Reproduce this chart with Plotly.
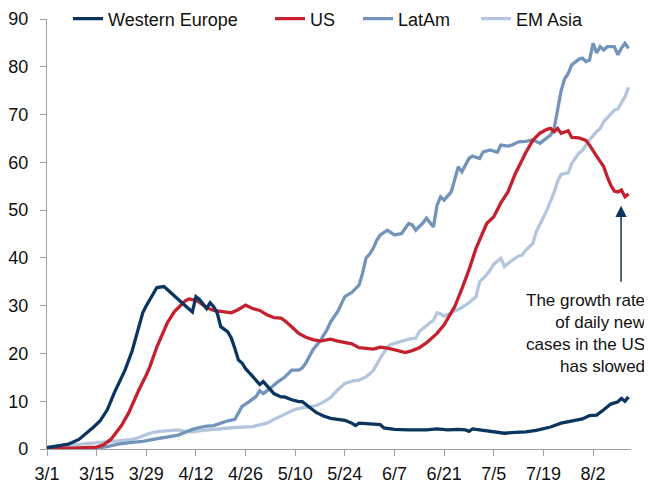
import datetime as dt
import plotly.graph_objects as go

BASE = dt.datetime(2020, 3, 1)

# Days since 1 Mar 2020 and values
we_day = [0, 3, 6, 9, 11, 13, 15, 17, 19, 21, 22, 24, 26, 27, 28, 29, 30, 31, 33, 34, 35, 37, 39, 41, 42, 43,
          45, 46, 47, 48, 49, 51, 52, 53, 54, 55, 56, 58, 60, 61, 62, 64, 66, 67, 69, 71, 72, 74, 76, 78, 80,
          82, 84, 86, 87, 88, 92, 94, 95, 98, 102, 107, 110, 113, 116, 118, 119, 120, 122, 124, 126, 129,
          132, 135, 138, 140, 142, 145, 148, 151, 153, 155, 157, 159, 161, 162, 163, 164]
we_val = [0.3, 0.6, 1.0, 2.0, 3.2, 4.5, 5.9, 8.2, 11.8, 14.8, 16.5, 20.5, 25.5, 28.5, 30.0, 31.2, 32.5, 33.8,
          34.0, 33.3, 32.6, 31.2, 30.0, 28.7, 31.9, 31.3, 29.4, 30.6, 29.8, 28.5, 25.6, 24.5, 23.2, 21.0,
          18.6, 18.0, 16.8, 15.2, 13.5, 14.1, 13.2, 11.6, 10.9, 10.9, 10.3, 9.9, 9.9, 8.7, 7.6, 6.9, 6.4,
          6.2, 6.0, 5.4, 4.9, 5.4, 5.3, 5.1, 4.4, 4.1, 4.0, 4.0, 4.2, 4.0, 4.1, 4.0, 3.7, 4.2, 4.0, 3.8,
          3.6, 3.3, 3.5, 3.6, 3.9, 4.2, 4.6, 5.4, 5.8, 6.3, 7.0, 7.1, 8.2, 9.4, 9.9, 10.6, 10.0, 10.9]

us_day = [0, 7, 14, 16, 18, 20, 21, 23, 24, 26, 28, 29, 31, 33, 34, 36, 37, 39, 40, 42, 43, 45, 47, 49, 51,
          52, 54, 56, 58, 60, 62, 64, 66, 67, 69, 71, 73, 75, 77, 79, 80, 82, 84, 86, 88, 90, 92, 94, 96,
          99, 101, 103, 105, 107, 108, 110, 112, 114, 115, 117, 119, 121, 123, 124, 126, 128, 130, 132,
          134, 135, 137, 139, 141, 142, 143, 144, 145, 147, 148, 150, 152, 153, 155, 157, 158, 159, 160,
          161, 162, 163, 164]
us_val = [0.2, 0.2, 0.4, 0.9, 2.0, 3.8, 4.9, 7.5, 9.2, 12.5, 15.5, 17.2, 21.4, 24.8, 26.5, 28.8, 29.6, 31.0,
          31.4, 31.1, 30.7, 29.6, 29.0, 28.8, 28.7, 28.5, 29.2, 30.1, 29.4, 29.0, 28.1, 27.5, 27.4, 26.9,
          25.6, 24.2, 23.4, 22.9, 22.6, 22.8, 23.0, 22.6, 22.3, 22.0, 21.2, 21.1, 20.9, 21.3, 21.1, 20.6,
          20.2, 20.6, 21.2, 22.2, 22.9, 24.2, 26.0, 28.4, 29.8, 33.5, 37.5, 42.0, 45.6, 47.2, 48.6, 51.5,
          53.8, 57.5, 60.5, 62.0, 64.6, 66.1, 66.9, 67.1, 66.4, 67.1, 66.1, 66.6, 65.2, 65.1, 64.6, 63.6,
          61.3, 59.1, 57.0, 55.2, 54.0, 53.8, 54.2, 52.8, 53.4]

la_day = [0, 10, 14, 17, 20, 24, 27, 30, 33, 35, 37, 39, 41, 43, 45, 47, 49, 51, 53, 54, 55, 57, 59, 60, 61,
          63, 65, 67, 69, 71, 72, 73, 75, 77, 79, 80, 82, 84, 86, 88, 89, 90, 91, 92, 93, 94, 96, 98, 100,
          102, 103, 104, 106, 107, 109, 110, 111, 112, 114, 116, 117, 119, 120, 122, 123, 125, 127, 128,
          130, 131, 133, 135, 137, 139, 140, 142, 143, 144, 145, 146, 147, 148, 150, 151, 152, 153, 154,
          155, 156, 157, 158, 160, 161, 162, 163, 164]
la_val = [0.0, 0.1, 0.2, 0.5, 1.0, 1.4, 1.6, 2.0, 2.4, 2.7, 2.9, 3.5, 4.1, 4.5, 4.8, 4.9, 5.4, 5.9, 6.2, 7.5,
          8.9, 9.9, 11.0, 12.2, 11.6, 12.7, 14.0, 15.0, 16.5, 16.5, 17.0, 18.0, 20.8, 22.6, 25.0, 26.6,
          28.8, 31.9, 32.8, 34.3, 36.8, 40.0, 40.8, 42.0, 43.7, 44.8, 45.8, 44.8, 45.1, 47.2, 46.9, 45.8,
          47.3, 48.3, 46.5, 51.0, 52.8, 52.1, 53.8, 59.1, 58.0, 60.8, 61.3, 60.8, 62.2, 62.6, 62.1, 63.6,
          63.4, 63.6, 64.3, 64.4, 64.7, 64.0, 64.6, 65.7, 67.0, 71.0, 75.0, 77.5, 78.6, 80.4, 81.6, 81.8,
          81.1, 81.4, 84.9, 82.9, 84.2, 83.5, 84.2, 84.2, 82.5, 83.9, 84.9, 83.9]

ea_day = [0, 5, 10, 14, 17, 20, 24, 26, 28, 30, 32, 35, 37, 39, 41, 44, 48, 53, 58, 60, 62, 64, 66, 68, 70,
          72, 74, 76, 78, 80, 82, 84, 86, 88, 90, 92, 94, 96, 97, 100, 102, 104, 105, 107, 108, 109, 110,
          111, 112, 115, 117, 119, 121, 122, 124, 125, 126, 128, 129, 131, 133, 134, 135, 137, 138, 139,
          141, 143, 144, 145, 147, 148, 150, 151, 153, 155, 156, 157, 159, 160, 161, 162, 163, 164]
ea_val = [0.4, 0.7, 1.0, 1.2, 1.4, 1.7, 2.0, 2.4, 3.0, 3.5, 3.7, 3.8, 4.0, 3.7, 3.6, 3.9, 4.2, 4.5, 4.7, 5.0,
          5.4, 6.2, 6.9, 7.6, 8.3, 8.6, 8.8, 9.1, 9.8, 10.8, 12.4, 13.7, 14.2, 14.4, 15.1, 16.4, 19.0,
          21.3, 21.9, 22.5, 23.0, 23.2, 24.6, 25.8, 26.3, 27.0, 28.5, 28.3, 27.8, 28.8, 29.6, 30.6, 31.9,
          35.0, 36.5, 37.5, 38.7, 39.9, 38.2, 39.4, 40.4, 40.6, 41.6, 43.0, 45.5, 47.0, 50.0, 53.7, 56.0,
          57.5, 57.8, 59.8, 61.9, 62.5, 64.7, 66.4, 67.1, 68.5, 70.2, 70.9, 71.2, 72.3, 73.7, 75.7]

tick_day = [0, 14, 28, 42, 56, 70, 84, 98, 112, 126, 140, 154]
tick_text = ["3/1", "3/15", "3/29", "4/12", "4/26", "5/10", "5/24", "6/7", "6/21", "7/5", "7/19", "8/2"]

names = ["Western Europe", "US", "LatAm", "EM Asia"]
colors = ["#0B355E", "#C5202E", "#7293BA", "#B3C6DD"]
series = [(we_day, we_val), (us_day, us_val), (la_day, la_val), (ea_day, ea_val)]


def to_dates(days):
    return [BASE + dt.timedelta(days=d) for d in days]


FONT = "Liberation Sans, Arial, sans-serif"
fig = go.Figure()
legend_ids = ["legend", "legend2", "legend3", "legend4"]
order = [3, 2, 1, 0]
for i in order:
    d, v = series[i]
    fig.add_trace(go.Scatter(x=to_dates(d), y=v, mode="lines", name=names[i],
                             line=dict(color=colors[i], width=3.3),
                             legend=legend_ids[i]))

# the page body adds an 8px offset, so the figure is 8px smaller than the window
OFF = 8
W, H = 652 - OFF, 486 - OFF
L, R, T, B = 47 - OFF, 21, 19 - OFF, 37
pw = W - L - R
legend_px = [68, 270, 358, 476]  # absolute page pixels of each legend box's left edge
leg_layout = {}
for lid, px in zip(legend_ids, legend_px):
    leg_layout[lid] = dict(x=(px - OFF - L) / pw, y=1.0, xanchor="left", yanchor="middle",
                           orientation="h", bgcolor="rgba(0,0,0,0)",
                           font=dict(family=FONT, size=18, color="#111111"))

fig.update_layout(
    width=W, height=H,
    margin=dict(l=L, r=R, t=T, b=B, autoexpand=False),
    paper_bgcolor="white", plot_bgcolor="white",
    font=dict(family=FONT, size=18, color="#111111"),
    showlegend=True,
    **leg_layout,
    xaxis=dict(type="date",
               range=[BASE, BASE + dt.timedelta(days=164.7)],
               tickvals=to_dates(tick_day), ticktext=tick_text,
               ticks="outside", ticklen=6, tickcolor="#A0A0A0", tickwidth=1,
               showline=True, linecolor="#A0A0A0", linewidth=1.3,
               showgrid=False, zeroline=False, automargin=False,
               ticklabelstandoff=2,
               tickfont=dict(family=FONT, size=18, color="#111111")),
    yaxis=dict(range=[0, 90], dtick=10, tick0=0,
               ticks="outside", ticklen=6, tickcolor="#A0A0A0", tickwidth=1,
               showline=True, linecolor="#A0A0A0", linewidth=1.3,
               showgrid=False, zeroline=False, automargin=False,
               ticklabelstandoff=8,
               tickfont=dict(family=FONT, size=18, color="#111111")),
)

arrow_x = BASE + dt.timedelta(days=161.9)
fig.add_annotation(x=arrow_x, y=50.9, xref="x", yref="y",
                   ax=arrow_x, ay=34.7, axref="x", ayref="y",
                   text="", showarrow=True, arrowhead=2, arrowsize=1.5,
                   arrowwidth=1.5, arrowcolor="#0B355E")
fig.add_annotation(x=(648 - 47) / pw, y=24.1, xref="paper", yref="y",
                   xanchor="right", yanchor="middle", align="right",
                   text="The growth rate<br>of daily new<br>cases in the US<br>has slowed",
                   showarrow=False,
                   font=dict(family=FONT, size=17, color="#111111"))

fig.write_html("out.html")
